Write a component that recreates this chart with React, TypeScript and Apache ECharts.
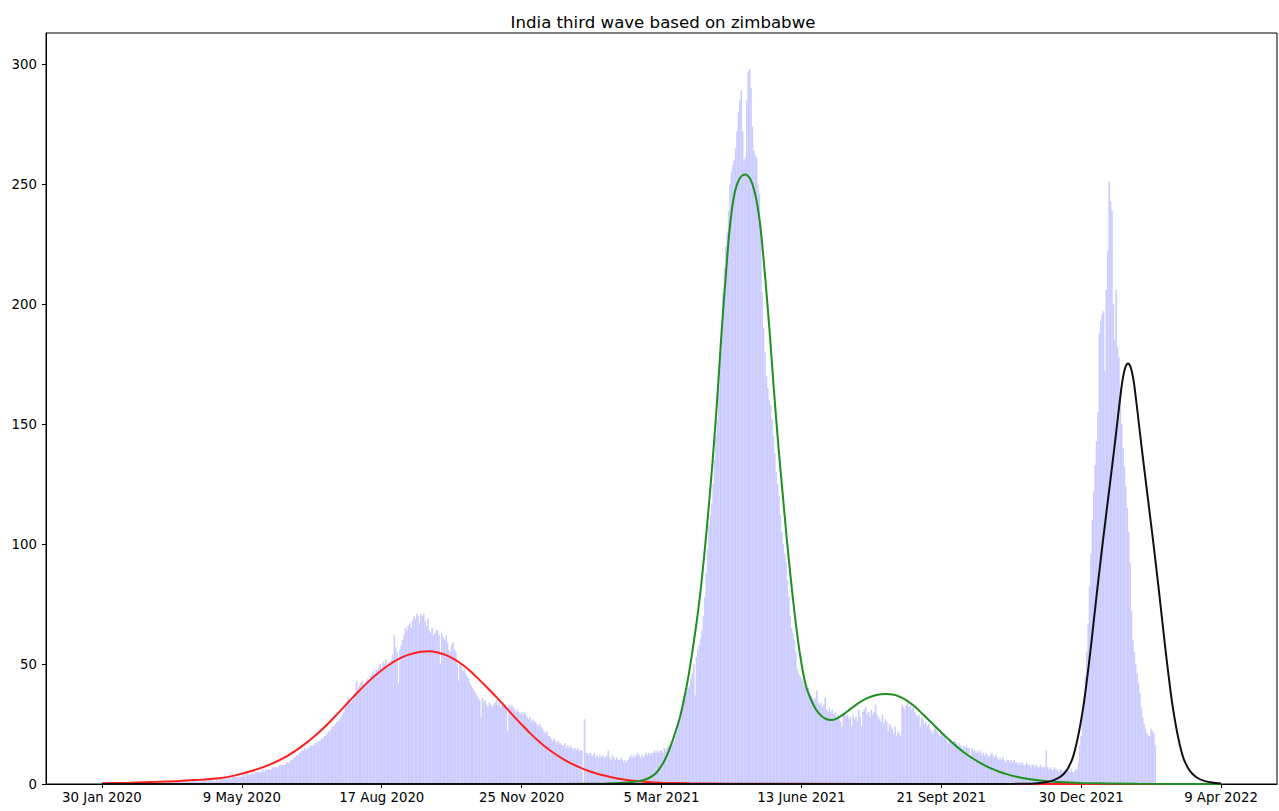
import React, { useEffect, useRef } from "react";
import * as echarts from "echarts";

const TITLE = "India third wave based on zimbabwe";

// x axis: days since 30 Jan 2020
const TICK_DAYS = [0, 100, 200, 300, 400, 500, 600, 700, 800];
const TICK_LABELS = [
  "30 Jan 2020",
  "9 May 2020",
  "17 Aug 2020",
  "25 Nov 2020",
  "5 Mar 2021",
  "13 June 2021",
  "21 Sept 2021",
  "30 Dec 2021",
  "9 Apr 2022",
];
const Y_TICKS = [0, 50, 100, 150, 200, 250, 300];

// daily values, day 0 = 30 Jan 2020
const DAILY_VALUES = [
  0, 0, 0, 0, 0, 0, 0, 0, 0, 0,
  0, 0, 0, 0, 0, 0, 0, 0, 0, 0,
  0, 0, 0, 0, 0, 0, 0, 0, 0, 0,
  0, 0, 0, 0, 0, 0, 0, 0, 0, 0,
  0, 0, 0, 1, 0, 0, 1, 0, 1, 1,
  1, 0, 1, 1, 1, 1, 1, 1, 1, 1,
  1, 1, 1, 1, 1, 1, 2, 1, 1, 1,
  1, 2, 1, 2, 2, 1, 2, 2, 2, 2,
  1, 1, 2, 1, 2, 2, 2, 2, 2, 2,
  2, 3, 2, 3, 3, 3, 3, 3, 3, 3,
  3, 4, 3, 4, 4, 4, 4, 4, 5, 4,
  5, 5, 5, 5, 5, 6, 5, 6, 6, 6,
  6, 6, 7, 7, 7, 7, 7, 8, 8, 8,
  8, 8, 9, 9, 9, 10, 10, 11, 11, 12,
  12, 13, 13, 14, 14, 15, 14, 15, 15, 16,
  16, 16, 17, 17, 17, 18, 18, 19, 19, 20,
  20, 21, 22, 22, 23, 24, 24, 25, 26, 26,
  27, 28, 29, 30, 33, 34, 36, 35, 34, 35,
  37, 38, 43, 40, 41, 42, 43, 42, 41, 43,
  44, 43, 45, 46, 47, 46, 48, 47, 49, 50,
  48, 51, 50, 52, 49, 51, 50, 52, 54, 62,
  57, 55, 42, 56, 58, 60, 62, 65, 64, 66,
  67, 65, 68, 70, 69, 71, 70, 67, 71, 70,
  71, 68, 66, 69, 64, 63, 65, 62, 63, 64,
  64, 62, 50, 63, 61, 60, 62, 59, 56, 55,
  58, 59, 56, 55, 50, 43, 50, 49, 47, 48,
  46, 45, 44, 42, 41, 40, 39, 38, 37, 36,
  35, 28, 36, 34, 35, 33, 32, 34, 33, 32,
  33, 34, 35, 33, 34, 32, 33, 34, 33, 32,
  22, 33, 32, 33, 32, 31, 30, 31, 30, 29,
  30, 29, 30, 29, 28, 27, 28, 26, 27, 26,
  26, 25, 24, 25, 24, 23, 22, 21, 22, 20,
  20, 19, 18, 19, 18, 17, 18, 17, 17, 16,
  16, 17, 15, 16, 15, 16, 15, 14, 15, 14,
  15, 14, 14, 14, 0, 27, 13, 13, 12, 13,
  12, 12, 13, 11, 12, 11, 12, 11, 12, 11,
  11, 12, 14, 11, 10, 12, 11, 10, 11, 10,
  10, 11, 10, 9, 10, 9, 10, 11, 12, 11,
  12, 11, 12, 13, 12, 11, 12, 11, 12, 13,
  12, 13, 12, 13, 13, 14, 13, 14, 13, 14,
  14, 13, 15, 14, 15, 16, 15, 17, 17, 18,
  20, 22, 26, 28, 30, 35, 37, 36, 38, 40,
  41, 44, 46, 50, 37, 53, 56, 58, 61, 64,
  70, 78, 88, 98, 108, 112, 117, 125, 135, 145,
  152, 165, 180, 190, 205, 215, 224, 230, 239, 250,
  255, 258, 260, 265, 272, 280, 285, 289, 272, 260,
  261, 285, 297, 298, 290, 274, 264, 262, 261, 250,
  246, 233, 205, 190, 180, 170, 165, 160, 158, 152,
  145, 138, 130, 125, 120, 112, 105, 100, 96, 93,
  85, 78, 70, 65, 63, 60, 55, 48, 46, 45,
  44, 43, 41, 40, 39, 40, 38, 37, 36, 35,
  36, 39, 34, 33, 34, 32, 33, 36, 31, 30,
  32, 30, 31, 29, 30, 28, 29, 27, 26, 24,
  29, 30, 28, 29, 27, 28, 24, 29, 27, 28,
  26, 31, 28, 24, 30, 31, 32, 29, 30, 28,
  31, 29, 30, 33, 29, 28, 27, 26, 29, 25,
  27, 26, 22, 25, 24, 23, 21, 24, 20, 22,
  21, 20, 33, 32, 31, 33, 34, 32, 33, 31,
  32, 30, 29, 28, 29, 24, 28, 27, 25, 26,
  24, 25, 23, 22, 21, 23, 24, 22, 21, 20,
  22, 20, 21, 19, 18, 17, 19, 18, 17, 18,
  18, 17, 16, 17, 16, 15, 16, 15, 16, 15,
  15, 12, 15, 14, 14, 13, 14, 13, 14, 12,
  13, 12, 13, 12, 11, 12, 13, 12, 11, 12,
  11, 10, 11, 10, 11, 10, 9, 10, 10, 9,
  10, 9, 10, 9, 9, 8, 9, 8, 9, 8,
  8, 9, 8, 8, 7, 8, 8, 7, 8, 7,
  7, 8, 7, 7, 7, 14, 7, 6, 7, 6,
  6, 7, 6, 6, 5, 6, 6, 5, 6, 6,
  5, 6, 5, 6, 5, 5, 6, 6, 9, 16,
  20, 28, 36, 45, 55, 67, 82, 96, 110, 122,
  133, 143, 155, 188, 193, 196, 197, 172, 206, 222,
  251, 243, 239, 200, 185, 206, 182, 178, 165, 150,
  140, 132, 124, 115, 105, 92, 72, 60, 55, 50,
  46, 42, 38, 32, 28, 25, 23, 21, 20, 20,
  23, 22, 21, 16,
];

// fitted curves (day, value)
const RED_DAYS = [0, 20, 40, 55, 70, 84, 96, 108, 120, 132, 144, 156, 168, 180, 192, 204, 216, 228, 234, 240, 246, 252, 258, 264, 270, 276, 282, 288, 294, 300, 306, 312, 318, 324, 330, 336, 342, 348, 354, 360, 366, 372, 378, 384, 390, 400, 420, 450, 500, 600, 800];
const RED_VALUES = [0.3, 0.5, 0.9, 1.3, 1.8, 2.4, 3.7, 5.6, 8.1, 11.5, 16.2, 22, 29, 36.5, 43.5, 49.2, 53.2, 55.1, 55.3, 54.8, 53.7, 51.9, 49.6, 46.7, 43.3, 39.8, 36.2, 32.4, 28.5, 24.8, 21.2, 17.9, 15, 12.5, 10.3, 8.4, 6.8, 5.4, 4.3, 3.4, 2.6, 2.0, 1.5, 1.15, 0.85, 0.55, 0.3, 0.15, 0.07, 0, 0];

const GREEN_DAYS = [0, 300, 360, 375, 384, 390, 396, 401, 405, 409, 413, 416, 419, 422, 425, 428, 431, 434, 437, 440, 442, 444, 446, 448, 450, 452, 454, 456, 458, 460, 462, 464, 466, 468, 470, 472, 474, 476, 478, 480, 482, 484, 486, 488, 490, 492, 494, 496, 498, 500, 502, 504, 507, 510, 514, 518, 522, 526, 530, 535, 541, 547, 553, 557, 561, 565, 569, 574, 580, 587, 594, 600, 606, 612, 618, 624, 630, 636, 642, 648, 654, 660, 666, 672, 684, 700, 740, 800];
const GREEN_VALUES = [0, 0, 0.2, 0.6, 1.2, 2.2, 4.5, 8.5, 13.5, 20, 27.5, 35, 44, 55, 67, 81, 98, 117, 138, 162, 180, 197, 212, 227, 238, 245.5, 250, 252.5, 253.7, 254, 253.3, 251.5, 248, 243, 235.5, 225, 212, 198, 183, 167, 152, 138, 125, 112, 99.5, 88, 77, 67, 58, 50.5, 44, 39.5, 35, 31.5, 28.5, 27, 26.7, 27.5, 29, 31.2, 33.8, 35.8, 37, 37.4, 37.5, 37.3, 36.7, 35.3, 32.8, 29, 25, 21.5, 18.2, 15.1, 12.4, 10.1, 8.1, 6.4, 5, 3.9, 3, 2.3, 1.8, 1.4, 0.8, 0.4, 0.1, 0];

const BLACK_DAYS = [0, 640, 660, 666.5, 673.5, 678.5, 683.5, 687.5, 690.5, 693.5, 695.5, 697.5, 699.5, 701.5, 703.5, 705.5, 707.5, 709.5, 711.5, 713.5, 715.5, 717.5, 719.5, 721.5, 723.5, 725.5, 727.5, 729.5, 731.5, 733.5, 735.5, 737.5, 739.5, 741.5, 743.5, 745.5, 747.5, 749.5, 751.5, 753.5, 755.5, 757.5, 759.5, 761.5, 763.5, 765.5, 767.5, 769.5, 771.5, 773.5, 776.5, 779.5, 783.5, 788.5, 793.5, 800];
const BLACK_VALUES = [0, 0, 0.1, 0.2, 0.6, 1.2, 2.4, 4.2, 6.5, 10.2, 14, 19, 25, 32, 40.5, 50, 60, 70.5, 81, 91, 101, 110.5, 120, 129.5, 139, 149, 159, 168, 173.5, 175.3, 173.5, 168, 159, 149, 139, 129.5, 120, 110.5, 101, 91, 81, 70.5, 60, 50, 40.5, 32, 25, 19, 14, 10.2, 6.6, 4.3, 2.4, 1.2, 0.6, 0.2];

const FONT = "DejaVu Sans";

const pairs = (xs: number[], ys: number[]) => xs.map((x, i) => [x, ys[i]]);

export default function App() {
  const ref = useRef<HTMLDivElement>(null);

  useEffect(() => {
    if (!ref.current) return;
    const chart = echarts.init(ref.current, null, { renderer: "svg" });
    const curve = (name: string, xs: number[], ys: number[], color: string) => ({
      name,
      type: "line",
      data: pairs(xs, ys),
      smooth: 0.3,
      showSymbol: false,
      symbol: "none",
      lineStyle: { color, width: 2 },
      itemStyle: { color },
      z: 3,
    });
    chart.setOption({
      animation: false,
      backgroundColor: "#ffffff",
      title: {
        text: TITLE,
        left: 658,
        top: 9,
        textAlign: "center",
        textStyle: { fontSize: 16.6, fontWeight: "normal", color: "#000", fontFamily: FONT },
      },
      grid: {
        left: 46,
        right: 2,
        top: 33,
        bottom: 27,
        show: true,
        borderColor: "#000",
        borderWidth: 1,
        backgroundColor: "transparent",
        containLabel: false,
      },
      xAxis: {
        type: "value",
        min: -40,
        max: 840,
        splitLine: { show: false },
        axisLine: { show: true, onZero: false, lineStyle: { color: "#000", width: 1 } },
        axisTick: { show: true, customValues: TICK_DAYS, length: 4, lineStyle: { color: "#000" } },
        axisLabel: {
          customValues: TICK_DAYS,
          formatter: (v: number) => {
            const i = TICK_DAYS.indexOf(v);
            return i >= 0 ? TICK_LABELS[i] : "";
          },
          fontSize: 13.3,
          color: "#000",
          fontFamily: FONT,
          margin: 7,
        },
      },
      yAxis: {
        type: "value",
        min: 0,
        max: 313,
        splitLine: { show: false },
        axisLine: { show: true, onZero: false, lineStyle: { color: "#000", width: 1 } },
        axisTick: { show: true, customValues: Y_TICKS, length: 4, lineStyle: { color: "#000" } },
        axisLabel: {
          customValues: Y_TICKS,
          fontSize: 13.3,
          color: "#000",
          fontFamily: FONT,
          margin: 9,
        },
      },
      series: [
        {
          name: "daily",
          type: "bar",
          data: DAILY_VALUES.map((v, i) => [i, v]),
          barWidth: 1.6,
          itemStyle: { color: "#ccccff" },
          z: 2,
        },
        curve("red", RED_DAYS, RED_VALUES, "#ff1f1f"),
        curve("green", GREEN_DAYS, GREEN_VALUES, "#1f8f1f"),
        curve("black", BLACK_DAYS, BLACK_VALUES, "#111111"),
      ],
    });
    return () => chart.dispose();
  }, []);

  return (
    <div
      ref={ref}
      style={{ position: "fixed", left: 0, top: 0, width: 1279, height: 811, background: "#fff" }}
    />
  );
}
